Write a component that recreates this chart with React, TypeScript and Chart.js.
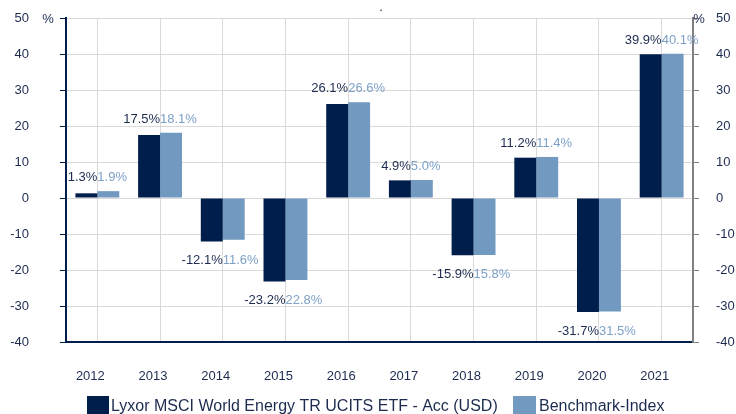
import React, { useEffect, useRef } from "react";
import { Chart, registerables } from "chart.js";

Chart.register(...registerables);

const categories = ["2012", "2013", "2014", "2015", "2016", "2017", "2018", "2019", "2020", "2021"];
const fundValues = [1.3, 17.5, -12.1, -23.2, 26.1, 4.9, -15.9, 11.2, -31.7, 39.9];
const benchValues = [1.9, 18.1, -11.6, -22.8, 26.6, 5.0, -15.8, 11.4, -31.5, 40.1];
const seriesNames = ["Lyxor MSCI World Energy TR UCITS ETF - Acc (USD)", "Benchmark-Index"];
const yMin = -40;
const yMax = 50;

const DARK = "#001E4B";
const LIGHT = "#7299BF";
const TEXT = "#1C2B4F";
const LIGHT_TEXT = "#7EA1C8";
const FONT = "'Liberation Sans', Arial, sans-serif";

const labelPlugin = {
  id: "pairLabels",
  afterDatasetsDraw(chart: any) {
    const ctx = chart.ctx;
    const y = chart.scales.y;
    const m0 = chart.getDatasetMeta(0);
    const m1 = chart.getDatasetMeta(1);
    ctx.save();
    ctx.font = `13px ${FONT}`;
    ctx.textBaseline = "middle";
    categories.forEach((_, i) => {
      const a = fundValues[i];
      const b = benchValues[i];
      const bar0 = m0.data[i];
      const bar1 = m1.data[i];
      const cx = (bar0.x + bar0.width / 2 + bar1.x - bar1.width / 2) / 2;
      let ly;
      if (a >= 0) {
        ly = y.getPixelForValue(Math.max(a, b)) - 13.5;
      } else {
        ly = y.getPixelForValue(Math.min(a, b)) + 19;
      }
      ctx.textAlign = "right";
      ctx.fillStyle = TEXT;
      ctx.fillText(`${a.toFixed(1)}%`, cx, ly);
      ctx.textAlign = "left";
      ctx.fillStyle = LIGHT_TEXT;
      ctx.fillText(`${Math.abs(b).toFixed(1)}%`, cx, ly);
    });
    ctx.restore();
  },
  afterDraw(chart: any) {
    const ctx = chart.ctx;
    const area = chart.chartArea;
    ctx.save();
    ctx.font = `13px ${FONT}`;
    ctx.fillStyle = TEXT;
    ctx.textBaseline = "middle";
    ctx.textAlign = "center";
    ctx.fillText("%", area.left - 18, area.top + 1);
    ctx.fillText("%", area.right + 6, area.top + 1);
    ctx.fillText(".", 381, 7);
    // legend
    ctx.font = `16px ${FONT}`;
    ctx.textAlign = "left";
    ctx.fillStyle = DARK;
    ctx.fillRect(87, 396, 22, 22);
    ctx.fillStyle = TEXT;
    ctx.fillText(seriesNames[0], 111, 407);
    ctx.fillStyle = LIGHT;
    ctx.fillRect(513, 396, 23, 22);
    ctx.fillStyle = TEXT;
    ctx.fillText(seriesNames[1], 539, 407);
    ctx.restore();
  },
};

export default function App() {
  const ref = useRef<HTMLCanvasElement>(null);
  useEffect(() => {
    document.body.style.margin = "0";
    const chart = new Chart(ref.current!, {
      type: "bar",
      data: {
        labels: categories,
        datasets: [
          { label: seriesNames[0], data: fundValues, backgroundColor: DARK, barPercentage: 1, categoryPercentage: 0.7 },
          { label: seriesNames[1], data: benchValues, backgroundColor: LIGHT, barPercentage: 1, categoryPercentage: 0.7 },
        ],
      },
      options: {
        responsive: false,
        animation: false,
        layout: { padding: { top: 18, left: 0, right: 0, bottom: 0 } },
        plugins: { legend: { display: false }, tooltip: { enabled: false } },
        scales: {
          x: {
            grid: { offset: false, color: "#D9D9D9", drawTicks: false, lineWidth: 1 },
            border: { color: DARK, width: 2 },
            ticks: { color: TEXT, font: { family: FONT, size: 13 }, padding: 27, labelOffset: -7, maxRotation: 0 },
            afterFit: (s: any) => { s.height = 72; s.paddingLeft = 0; s.paddingRight = 0; },
          },
          y: {
            position: "left",
            min: yMin,
            max: yMax,
            grid: { color: "#D9D9D9", tickColor: DARK, tickLength: 6 },
            border: { color: DARK, width: 2 },
            ticks: { stepSize: 10, color: TEXT, font: { family: FONT, size: 13 }, padding: 31 },
            afterFit: (s: any) => { s.width = 66; s.paddingTop = 0; s.paddingBottom = 0; },
          },
          y2: {
            position: "right",
            min: yMin,
            max: yMax,
            grid: { drawOnChartArea: false, tickColor: "#808080", tickLength: 6 },
            border: { color: "#808080", width: 2 },
            ticks: { stepSize: 10, color: TEXT, font: { family: FONT, size: 13 }, padding: 17 },
            afterFit: (s: any) => { s.width = 43; s.paddingTop = 0; s.paddingBottom = 0; },
          },
        },
      },
      plugins: [labelPlugin],
    });
    return () => chart.destroy();
  }, []);
  return (
    <div style={{ position: "absolute", left: 0, top: 0, width: 736, height: 414, overflow: "hidden", background: "#fff" }}>
      <canvas ref={ref} width={736} height={414} />
    </div>
  );
}
